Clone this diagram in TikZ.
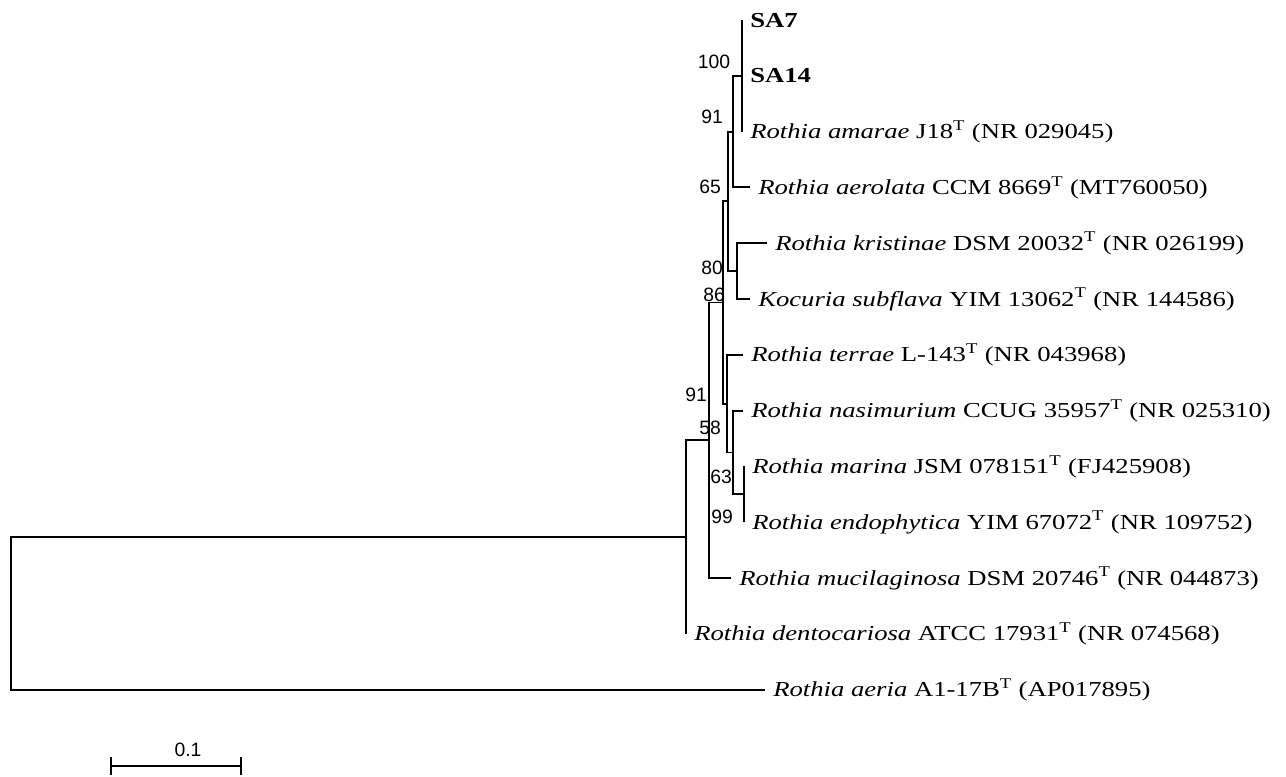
\documentclass[tikz,border=0pt]{standalone}
\usepackage{fontspec}
\setmainfont{Liberation Serif}[FakeStretch=1.25]
\newfontfamily\bootfont{Liberation Sans}
\usetikzlibrary{arrows.meta}

\begin{document}
\begin{tikzpicture}[x=0.75pt,y=-0.75pt,line width=1.4pt,
  leaf/.style={anchor=west, inner sep=0pt, xshift=5.5pt,
    font=\fontsize{16}{19}\selectfont, text height=10.6pt, text depth=0pt},
  boot/.style={inner sep=0pt, font=\bootfont\fontsize{14.5}{16}\selectfont,
    text height=10.4pt, text depth=0pt}]

% Cornice dell'immagine
\useasboundingbox (0,0) rectangle (1286,776);

% Nodi interni (x = distanza, y = punto medio dei figli)
\coordinate (root) at (11,613.31);
\coordinate (nA)   at (686,537.02);
\coordinate (n58)  at (709,440.24);
\coordinate (n86)  at (723,302.49);
\coordinate (n65)  at (728,201.35);
\coordinate (n91)  at (733,131.6);
\coordinate (n100) at (742,75.8);
\coordinate (n80)  at (737,271.1);
\coordinate (nT)   at (727,403.63);
\coordinate (n63)  at (733,452.45);
\coordinate (n99)  at (744,494.3);

% Foglie (fine dei rami)
\coordinate (tSA7)  at (742,20);
\coordinate (tSA14) at (742,75.8);
\coordinate (tAma)  at (742,131.6);
\coordinate (tAer)  at (750,187.4);
\coordinate (tKri)  at (767,243.2);
\coordinate (tSub)  at (750,299);
\coordinate (tTer)  at (743,354.8);
\coordinate (tNas)  at (743,410.6);
\coordinate (tMar)  at (744,466.4);
\coordinate (tEnd)  at (744,522.2);
\coordinate (tMuc)  at (731,578);
\coordinate (tDen)  at (686,633.8);
\coordinate (tAeria) at (765,689.6);

% Rami
\draw (root) |- (nA);
\draw (root) |- (tAeria);
\draw (nA) |- (n58);
\draw (nA) |- (tDen);
\draw (n58) |- (n86);
\draw (n58) |- (tMuc);
\draw (n86) |- (n65);
\draw (n86) |- (nT);
\draw (n65) |- (n91);
\draw (n65) |- (n80);
\draw (n91) |- (n100);
\draw (n91) |- (tAer);
\draw (n100) |- (tSA7);
\draw (n100) |- (tSA14);
\draw (n100) |- (tAma);
\draw (n80) |- (tKri);
\draw (n80) |- (tSub);
\draw (nT) |- (tTer);
\draw (nT) |- (n63);
\draw (n63) |- (tNas);
\draw (n63) |- (n99);
\draw (n99) |- (tMar);
\draw (n99) |- (tEnd);

% Etichette delle foglie
\node[leaf] (lSA7)  at (tSA7)  {\textbf{SA7}};
\node[leaf] (lSA14) at (tSA14) {\textbf{SA14}};
\node[leaf] (lAma)  at (tAma)  {\textit{Rothia amarae} J18\textsuperscript{T} (NR 029045)};
\node[leaf] (lAer)  at (tAer)  {\textit{Rothia aerolata} CCM 8669\textsuperscript{T} (MT760050)};
\node[leaf] (lKri)  at (tKri)  {\textit{Rothia kristinae} DSM 20032\textsuperscript{T} (NR 026199)};
\node[leaf] (lSub)  at (tSub)  {\textit{Kocuria subflava} YIM 13062\textsuperscript{T} (NR 144586)};
\node[leaf] (lTer)  at (tTer)  {\textit{Rothia terrae} L-143\textsuperscript{T} (NR 043968)};
\node[leaf] (lNas)  at (tNas)  {\textit{Rothia nasimurium} CCUG 35957\textsuperscript{T} (NR 025310)};
\node[leaf] (lMar)  at (tMar)  {\textit{Rothia marina} JSM 078151\textsuperscript{T} (FJ425908)};
\node[leaf] (lEnd)  at (tEnd)  {\textit{Rothia endophytica} YIM 67072\textsuperscript{T} (NR 109752)};
\node[leaf] (lMuc)  at (tMuc)  {\textit{Rothia mucilaginosa} DSM 20746\textsuperscript{T} (NR 044873)};
\node[leaf] (lDen)  at (tDen)  {\textit{Rothia dentocariosa} ATCC 17931\textsuperscript{T} (NR 074568)};
\node[leaf] (lAeria) at (tAeria) {\textit{Rothia aeria} A1-17B\textsuperscript{T} (AP017895)};

% Valori di bootstrap
\node[boot] (b100) at (714,62)  {100};
\node[boot] (b91a) at (712,117) {91};
\node[boot] (b65)  at (710,187) {65};
\node[boot] (b80)  at (712,268) {80};
\node[boot] (b86)  at (714,295) {86};
\node[boot] (b91b) at (696,395) {91};
\node[boot] (b58)  at (710,428) {58};
\node[boot] (b63)  at (721,477) {63};
\node[boot] (b99)  at (722,517) {99};

% Barra di scala
\coordinate (sL) at (110,766);
\coordinate (sR) at (242,766);
\draw[{Bar[width=13.5pt]}-{Bar[width=13.5pt]}] (sL) -- (sR);
\node[boot] (sLab) at (188,750) {0.1};

\end{tikzpicture}
\end{document}
